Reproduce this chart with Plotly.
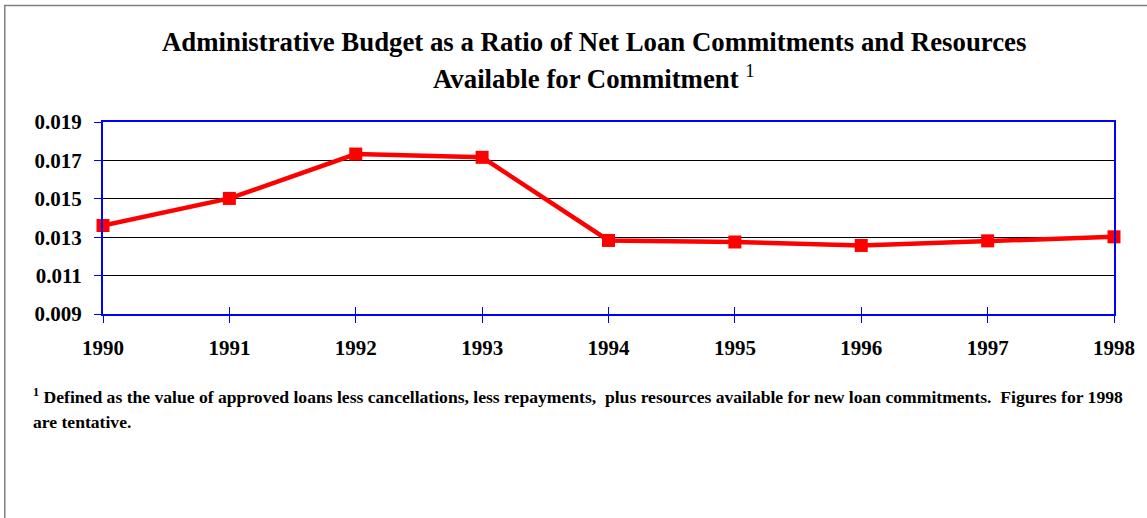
import plotly.graph_objects as go

# Administrative budget ratio by year
years = [1990, 1991, 1992, 1993, 1994, 1995, 1996, 1997, 1998]
ratio = [0.01361, 0.01502, 0.01733, 0.01716, 0.01283, 0.01275, 0.01257, 0.01281, 0.01302]
y_ticks = [0.009, 0.011, 0.013, 0.015, 0.017, 0.019]
y_tick_text = ["0.009", "0.011", "0.013", "0.015", "0.017", "0.019"]

title_line1 = "Administrative Budget as a Ratio of Net Loan Commitments and Resources"
title_line2 = "Available for Commitment"
note_line1 = ("Defined as the value of approved loans less cancellations, less repayments,&nbsp; "
              "plus resources available for new loan commitments.&nbsp; Figures for 1998")
note_line2 = "are tentative."

W, H = 1147, 518
L, R, T, B = 103, 30, 122, 204
plot_w = W - L - R
plot_h = H - T - B


def px_x(p):
    return (p - L) / plot_w


def px_y(p):
    return (H - B - p) / plot_h


serif = "Liberation Serif"

fig = go.Figure()
fig.add_trace(go.Scatter(
    x=years, y=ratio, mode="lines+markers",
    line=dict(color="#ff0000", width=4.5),
    marker=dict(symbol="square", size=13, color="#ff0000"),
    cliponaxis=False, showlegend=False, hoverinfo="x+y",
))
# companion trace so the inner tick marks of the second x axis get drawn
fig.add_trace(go.Scatter(
    x=years, y=ratio, xaxis="x2", mode="none",
    showlegend=False, hoverinfo="skip",
))

fig.update_layout(
    width=W, height=H,
    margin=dict(l=L, r=R, t=T, b=B),
    paper_bgcolor="white", plot_bgcolor="white",
    font=dict(family=serif, color="black"),
    xaxis=dict(
        range=[1990, 1998], tickvals=years, ticktext=[str(y) for y in years],
        showgrid=False, zeroline=False,
        showline=True, linecolor="#0000ff", linewidth=2, mirror=True,
        ticks="outside", ticklen=7, tickcolor="#0000ff", tickwidth=1,
        tickfont=dict(family=serif, size=21, color="black", weight="bold"),
        ticklabelstandoff=7,
    ),
    xaxis2=dict(
        range=[1990, 1998], tickvals=years, overlaying="x", anchor="y", side="bottom",
        showgrid=False, zeroline=False, showline=False, showticklabels=False,
        ticks="inside", ticklen=7, tickcolor="#0000ff", tickwidth=1,
    ),
    yaxis=dict(
        range=[0.009, 0.019], tickvals=y_ticks, ticktext=y_tick_text,
        showgrid=True, gridcolor="black", gridwidth=1, zeroline=False,
        showline=True, linecolor="#0000ff", linewidth=2, mirror=True,
        ticks="outside", ticklen=7, tickcolor="#0000ff", tickwidth=1,
        tickfont=dict(family=serif, size=21, color="black", weight="bold"),
        ticklabelstandoff=8,
    ),
    shapes=[dict(
        type="rect", xref="paper", yref="paper",
        x0=px_x(4.5), x1=px_x(W + 20), y0=px_y(H + 20), y1=px_y(5.5),
        line=dict(color="#7f7f7f", width=1.5), layer="below",
    )],
    annotations=[
        dict(text="<b>" + title_line1 + "</b>", xref="paper", yref="paper",
             x=px_x(595), y=px_y(42), xanchor="center", yanchor="middle",
             showarrow=False, font=dict(family=serif, size=26.8, color="black")),
        dict(text="<b>" + title_line2 + "</b> <sup>1</sup>", xref="paper", yref="paper",
             x=px_x(595), y=px_y(77), xanchor="center", yanchor="middle",
             showarrow=False, font=dict(family=serif, size=26.8, color="black")),
        dict(text="<b><sup>1</sup> " + note_line1 + "</b>", xref="paper", yref="paper",
             x=px_x(31), y=px_y(396), xanchor="left", yanchor="middle", align="left",
             showarrow=False, font=dict(family=serif, size=17.6, color="black")),
        dict(text="<b>" + note_line2 + "</b>", xref="paper", yref="paper",
             x=px_x(31), y=px_y(422), xanchor="left", yanchor="middle", align="left",
             showarrow=False, font=dict(family=serif, size=17.6, color="black")),
    ],
)

fig.write_html("out.html")
